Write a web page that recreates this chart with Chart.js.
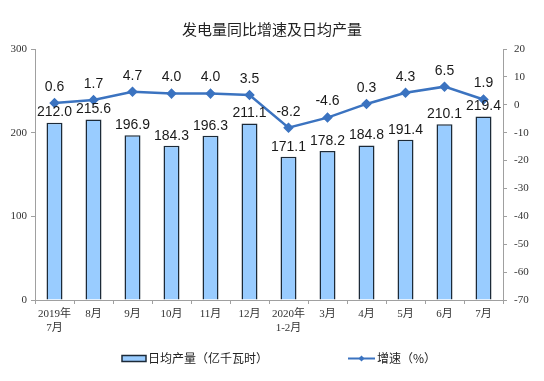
<!DOCTYPE html>
<html><head><meta charset="utf-8">
<script src="https://cdn.jsdelivr.net/npm/chart.js@4/dist/chart.umd.min.js"></script>
<style>html,body{margin:0;padding:0;background:#fff}#wrap{width:544px;height:381px}</style>
</head><body><div id="wrap"><canvas id="c" width="544" height="381"></canvas></div>
<script>
const categories = [["2019年","7月"],"8月","9月","10月","11月","12月",["2020年","1-2月"],"3月","4月","5月","6月","7月"];
const dailyOutput = [212.0,215.6,196.9,184.3,196.3,211.1,171.1,178.2,184.8,191.4,210.1,219.4];
const growthRate = [0.6,1.7,4.7,4.0,4.0,3.5,-8.2,-4.6,0.3,4.3,6.5,1.9];
const leftRange = [0,300,100];
const rightRange = [-70,20,10];
const seriesNames = ["日均产量（亿千瓦时）","增速（%）"];
const titleText = "发电量同比增速及日均产量";

const BAR_FILL = '#99CCFF', BAR_EDGE = '#1C2A38', LINE_COL = '#3B73C0';
const SERIF = '"Liberation Serif","Times New Roman","Noto Sans CJK SC",serif';
const SANS = 'Arial,"Liberation Sans",sans-serif';
const CJK = '"Noto Sans CJK SC",sans-serif';

const valueLabels = {
  id: 'valueLabels',
  afterDatasetsDraw(chart) {
    const ctx = chart.ctx;
    ctx.save();
    ctx.font = '14px ' + SANS;
    ctx.fillStyle = '#1a1a1a';
    ctx.textAlign = 'center';
    ctx.textBaseline = 'middle';
    chart.data.datasets.forEach((ds, di) => {
      const meta = chart.getDatasetMeta(di);
      meta.data.forEach((el, i) => {
        const off = ds.type === 'line' ? 16 : 10;
        ctx.fillText(ds.data[i].toFixed(1), el.x, el.y - off);
      });
    });
    ctx.restore();
  }
};

const customLegend = {
  id: 'customLegend',
  afterDraw(chart) {
    const ctx = chart.ctx;
    const y = 358.5;
    ctx.save();
    ctx.fillStyle = BAR_FILL;
    ctx.strokeStyle = BAR_EDGE;
    ctx.lineWidth = 1.5;
    ctx.fillRect(122, y - 3, 24, 6);
    ctx.strokeRect(122, y - 3, 24, 6);
    ctx.font = '12px ' + CJK;
    ctx.fillStyle = '#222';
    ctx.textBaseline = 'middle';
    ctx.textAlign = 'left';
    ctx.fillText(seriesNames[0], 148, y);
    ctx.strokeStyle = LINE_COL;
    ctx.lineWidth = 2;
    ctx.beginPath(); ctx.moveTo(348, y); ctx.lineTo(375, y); ctx.stroke();
    ctx.fillStyle = LINE_COL;
    ctx.beginPath(); ctx.moveTo(361.5, y - 3); ctx.lineTo(364.5, y); ctx.lineTo(361.5, y + 3); ctx.lineTo(358.5, y); ctx.closePath(); ctx.fill();
    ctx.fillStyle = '#222';
    ctx.fillText(seriesNames[1], 377, y);
    ctx.restore();
  }
};

new Chart(document.getElementById('c'), {
  data: {
    labels: categories,
    datasets: [
      { type: 'line', label: seriesNames[1], data: growthRate, yAxisID: 'y1', order: 0,
        borderColor: LINE_COL, backgroundColor: LINE_COL, borderWidth: 2.5, tension: 0,
        pointStyle: 'rectRot', pointRadius: 3.5, pointBackgroundColor: LINE_COL, pointBorderColor: LINE_COL },
      { type: 'bar', label: seriesNames[0], data: dailyOutput, yAxisID: 'y', order: 1,
        backgroundColor: BAR_FILL, borderColor: BAR_EDGE, borderWidth: 1.5,
        barPercentage: 0.41, categoryPercentage: 1.0 }
    ]
  },
  options: {
    responsive: false, animation: false, devicePixelRatio: 1,
    layout: { padding: { left: 0, right: 0, top: 0, bottom: 41 } },
    plugins: {
      legend: { display: false },
      tooltip: { enabled: false },
      title: { display: true, text: titleText, color: '#222',
        font: { family: CJK, size: 15, weight: 'normal', lineHeight: 1.2 },
        padding: { top: 20, bottom: 11 } }
    },
    scales: {
      x: {
        offset: true,
        grid: { display: true, drawOnChartArea: false, offset: true, tickLength: 4, color: '#a0a0a0' },
        border: { color: '#a0a0a0' },
        ticks: { color: '#333', font: { family: SERIF, size: 11, lineHeight: 1.25 }, padding: 3, maxRotation: 0, autoSkip: false },
        afterFit(s) { s.height = 40; }
      },
      y: {
        position: 'left', min: leftRange[0], max: leftRange[1],
        grid: { drawOnChartArea: false, tickLength: 4, color: '#a0a0a0' },
        border: { color: '#a0a0a0' },
        ticks: { stepSize: leftRange[2], color: '#333', font: { family: SERIF, size: 11 }, padding: 4 },
        afterFit(s) { s.width = 35; }
      },
      y1: {
        position: 'right', min: rightRange[0], max: rightRange[1],
        grid: { drawOnChartArea: false, tickLength: 4, color: '#a0a0a0' },
        border: { color: '#a0a0a0' },
        ticks: { stepSize: rightRange[2], color: '#333', font: { family: SERIF, size: 11 }, padding: 7 },
        afterFit(s) { s.width = 41; }
      }
    }
  },
  plugins: [valueLabels, customLegend]
});
</script></body></html>
